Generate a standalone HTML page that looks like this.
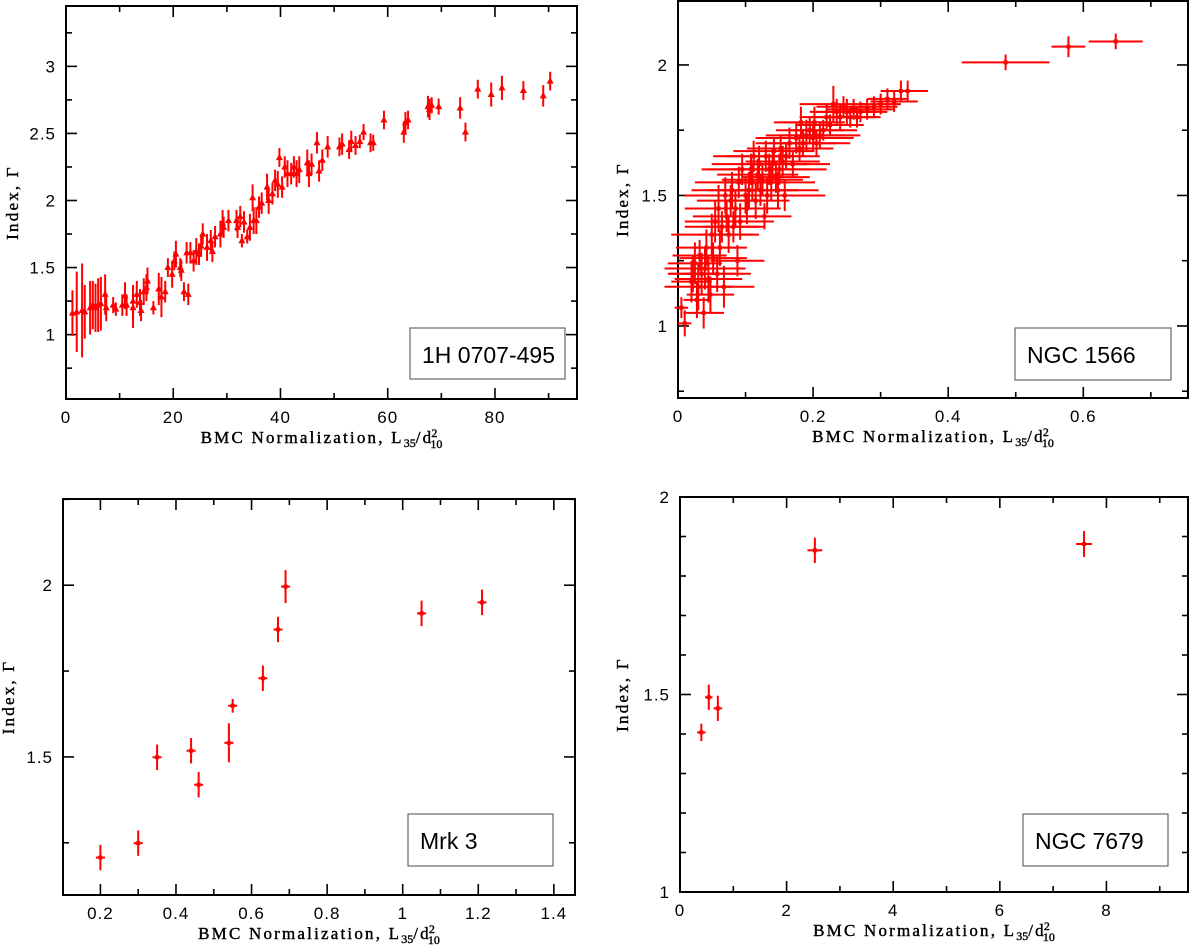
<!DOCTYPE html>
<html><head><meta charset="utf-8"><style>
html,body{margin:0;padding:0;background:#fff;}
svg{display:block;}
text{font-family:"Liberation Sans",sans-serif;fill:#000;}
.tl{font-size:17px;letter-spacing:1px;}
.at{font-family:"Liberation Serif",serif;font-size:17px;letter-spacing:2.2px;stroke:#000;stroke-width:0.4px;}
.lab{font-size:23px;}
</style></head><body>
<svg id="fig" width="1200" height="945" viewBox="0 0 1200 945" xmlns="http://www.w3.org/2000/svg"></svg>
<script>
// ---- Panel 1: 1H 0707-495 (x, gamma, yerr)
const p1X=[1.2,2,3,3.5,4.5,5,5.5,6,6.5,7.3,7.5,8.8,9.3,10.5,11,11.3,12.5,12.5,13.2,13.8,14,14.5,15,15.2,16.3,17.3,17.8,18.5,19,19.8,20.2,20.5,21.3,21.5,22,22.5,22.8,23.2,23.8,24.3,24.8,25.2,25.5,26.3,27,27.3,27.8,28.8,29.2,29.4,30.3,31.8,32,32.5,32.8,33.2,33.8,34.3,34.8,35,35.5,36,36.5,37.5,37.8,38.5,39,39.5,39.8,40.3,40.8,41.3,42,42.5,43,43.5,45,45.3,45.8,46.8,47.2,47.8,48.8,51,51.5,52.8,53.2,54,54.8,55.5,56.8,57.3,59.3,63,63.3,63.8,67.5,67.8,68.2,69.5,73.5,74.5,76.8,79.3,81.3,85.3,89,90.3];
const p1Y=[1.16,1.17,1.18,1.17,1.2,1.22,1.2,1.22,1.23,1.3,1.2,1.22,1.19,1.22,1.29,1.22,1.25,1.2,1.3,1.24,1.18,1.32,1.35,1.4,1.2,1.34,1.28,1.32,1.5,1.45,1.55,1.6,1.5,1.48,1.32,1.61,1.3,1.61,1.55,1.62,1.6,1.66,1.75,1.65,1.7,1.62,1.73,1.75,1.83,1.8,1.85,1.85,1.8,1.88,1.7,1.84,1.73,1.8,2.02,1.85,1.85,1.95,1.98,2.1,2.0,2.05,2.15,2.12,2.32,2.1,2.25,2.2,2.2,2.25,2.2,2.23,2.28,2.2,2.27,2.43,2.22,2.3,2.4,2.4,2.42,2.38,2.44,2.41,2.44,2.51,2.43,2.43,2.6,2.51,2.58,2.6,2.7,2.68,2.71,2.7,2.69,2.51,2.83,2.79,2.84,2.82,2.78,2.89];
const p1E=[0.17,0.3,0.35,0.2,0.2,0.18,0.18,0.2,0.2,0.15,0.1,0.06,0.05,0.08,0.1,0.08,0.12,0.15,0.1,0.1,0.08,0.1,0.1,0.1,0.05,0.12,0.15,0.08,0.07,0.1,0.07,0.1,0.07,0.08,0.07,0.08,0.08,0.08,0.08,0.1,0.08,0.08,0.08,0.1,0.08,0.08,0.08,0.1,0.1,0.08,0.08,0.08,0.08,0.08,0.05,0.08,0.05,0.1,0.1,0.1,0.1,0.08,0.08,0.1,0.1,0.08,0.08,0.1,0.07,0.08,0.08,0.1,0.08,0.08,0.1,0.1,0.1,0.1,0.08,0.08,0.08,0.08,0.08,0.07,0.08,0.07,0.08,0.07,0.05,0.06,0.07,0.06,0.07,0.08,0.08,0.07,0.08,0.08,0.06,0.06,0.08,0.07,0.07,0.09,0.09,0.07,0.08,0.07];
// ---- Panel 2: NGC 1566 (x, gamma, xerr, yerr)
const p2X=[0.005,0.01,0.02,0.022,0.025,0.028,0.03,0.032,0.035,0.038,0.04,0.042,0.045,0.048,0.05,0.052,0.055,0.058,0.06,0.062,0.065,0.068,0.07,0.072,0.075,0.078,0.08,0.082,0.085,0.088,0.09,0.092,0.095,0.1,0.102,0.105,0.108,0.11,0.112,0.115,0.118,0.12,0.122,0.125,0.128,0.13,0.132,0.135,0.138,0.14,0.142,0.145,0.148,0.15,0.152,0.155,0.158,0.16,0.165,0.17,0.175,0.18,0.182,0.185,0.19,0.195,0.2,0.202,0.205,0.21,0.215,0.22,0.225,0.23,0.235,0.24,0.245,0.25,0.255,0.26,0.265,0.27,0.28,0.29,0.3,0.31,0.32,0.33,0.34,0.485,0.578,0.648];
const p2Y=[1.07,1.01,1.17,1.2,1.24,1.1,1.15,1.27,1.2,1.05,1.22,1.3,1.18,1.12,1.35,1.26,1.4,1.2,1.45,1.3,1.38,1.15,1.5,1.42,1.35,1.48,1.52,1.38,1.45,1.25,1.55,1.4,1.6,1.5,1.45,1.52,1.6,1.55,1.65,1.48,1.58,1.62,1.52,1.56,1.42,1.65,1.5,1.6,1.55,1.62,1.67,1.57,1.52,1.6,1.68,1.63,1.5,1.65,1.7,1.62,1.72,1.68,1.78,1.7,1.73,1.75,1.72,1.78,1.7,1.73,1.75,1.8,1.77,1.85,1.82,1.8,1.84,1.82,1.8,1.83,1.8,1.82,1.83,1.84,1.85,1.87,1.86,1.9,1.9,2.01,2.07,2.09];
const p2XE=[0.01,0.01,0.03,0.035,0.04,0.02,0.05,0.04,0.05,0.03,0.06,0.045,0.05,0.035,0.06,0.05,0.045,0.05,0.05,0.04,0.055,0.045,0.06,0.05,0.045,0.05,0.06,0.045,0.05,0.04,0.065,0.05,0.06,0.06,0.05,0.06,0.065,0.055,0.06,0.05,0.06,0.07,0.055,0.06,0.04,0.06,0.05,0.06,0.065,0.055,0.06,0.05,0.06,0.07,0.05,0.055,0.06,0.05,0.05,0.055,0.06,0.05,0.04,0.05,0.06,0.05,0.06,0.045,0.05,0.06,0.05,0.04,0.05,0.05,0.04,0.05,0.04,0.045,0.04,0.04,0.035,0.04,0.04,0.035,0.03,0.03,0.035,0.03,0.03,0.065,0.025,0.04];
const p2YE=[0.04,0.05,0.08,0.07,0.08,0.07,0.09,0.06,0.08,0.06,0.08,0.07,0.09,0.07,0.08,0.06,0.08,0.07,0.09,0.07,0.06,0.08,0.07,0.06,0.07,0.06,0.07,0.06,0.07,0.06,0.06,0.07,0.06,0.07,0.06,0.07,0.06,0.07,0.06,0.07,0.06,0.07,0.06,0.06,0.05,0.06,0.07,0.06,0.07,0.06,0.05,0.06,0.07,0.06,0.05,0.06,0.06,0.05,0.06,0.05,0.06,0.05,0.06,0.05,0.06,0.05,0.05,0.06,0.05,0.05,0.04,0.05,0.04,0.07,0.05,0.05,0.04,0.05,0.04,0.04,0.04,0.04,0.04,0.04,0.04,0.04,0.04,0.04,0.04,0.03,0.04,0.03];
// ---- Panel 3: Mrk 3
const p3X=[0.2,0.3,0.35,0.44,0.46,0.54,0.55,0.63,0.67,0.69,1.05,1.21];
const p3Y=[1.207,1.249,1.499,1.518,1.419,1.541,1.649,1.729,1.871,1.996,1.918,1.95];
const p3E=[0.037,0.037,0.037,0.037,0.037,0.057,0.02,0.037,0.037,0.048,0.037,0.037];
// ---- Panel 4: NGC 7679
const p4X=[0.4,0.54,0.71,2.53,7.58];
const p4Y=[1.404,1.493,1.465,1.865,1.881];
const p4XE=[0.08,0.07,0.08,0.14,0.15];
const p4YE=[0.022,0.032,0.032,0.032,0.033];
// ---- Tick labels
const p1XT=["0","20","40","60","80"], p1YT=["1","1.5","2","2.5","3"];
const p2XT=["0","0.2","0.4","0.6"], p2YT=["1","1.5","2"];
const p3XT=["0.2","0.4","0.6","0.8","1","1.2","1.4"], p3YT=["1.5","2"];
const p4XT=["0","2","4","6","8"], p4YT=["1","1.5","2"];

const NS="http://www.w3.org/2000/svg";
const svg=document.getElementById('fig');
function mk(tag,attrs,parent){const e=document.createElementNS(NS,tag);for(const k in attrs)e.setAttribute(k,attrs[k]);(parent||svg).appendChild(e);return e;}

function panel(cfg){
  const g=mk('g',{});
  
  
  const {L,R,T,B,x0,x1,y0,y1}=cfg;
  const sx=v=>L+(v-x0)/(x1-x0)*(R-L);
  const sy=v=>B-(v-y0)/(y1-y0)*(B-T);
  const tg=mk('g',{stroke:'#000','stroke-width':1.6},g);
  
  
  for(let v=Math.ceil(x0/cfg.xmin-1e-6)*cfg.xmin; v<=x1+1e-9; v+=cfg.xmin){
    const maj=Math.abs(v/cfg.xmaj-Math.round(v/cfg.xmaj))<1e-6; const len=maj?11:6; const x=sx(v);
    mk('line',{x1:x,x2:x,y1:B,y2:B-len},tg); mk('line',{x1:x,x2:x,y1:T,y2:T+len},tg);
  }
  for(let v=Math.ceil(y0/cfg.ymin-1e-6)*cfg.ymin; v<=y1+1e-9; v+=cfg.ymin){
    const maj=Math.abs(v/cfg.ymaj-Math.round(v/cfg.ymaj))<1e-6; const len=maj?11:6; const y=sy(v);
    mk('line',{x1:L,x2:L+len,y1:y,y2:y},tg); mk('line',{x1:R,x2:R-len,y1:y,y2:y},tg);
  }
  const fr=mk('rect',{x:L,y:T,width:R-L,height:B-T,fill:'none',stroke:'#000','stroke-width':2},g);
  
  
  cfg.xt.forEach(s=>{const t=mk('text',{x:sx(parseFloat(s)),y:B+24,'text-anchor':'middle',class:'tl'},g);t.textContent=s;
    
    });
  cfg.yt.forEach(s=>{const t=mk('text',{x:L-10,y:sy(parseFloat(s))+6,'text-anchor':'end',class:'tl'},g);t.textContent=s;
    
    });
  const xt=mk('text',{x:(L+R)/2,y:B+44,'text-anchor':'middle',class:'at'},g);
  xt.innerHTML='BMC Normalization, L<tspan dy="4" font-size="12" letter-spacing="0">35</tspan><tspan dy="-4">/d</tspan><tspan dx="-2" dy="-6" font-size="12" letter-spacing="0">2</tspan><tspan dx="-7" dy="11" font-size="12" letter-spacing="0">10</tspan>';
  
  
  const yx=cfg.ytx, yy=(T+B)/2;
  const yt=mk('text',{x:yx,y:yy,'text-anchor':'middle',class:'at',transform:`rotate(-90 ${yx} ${yy})`},g);
  yt.textContent='Index, Γ';
  
  
  const dg=mk('g',{stroke:'#ff0000','stroke-width':2,fill:'#ff0000'},g);
  
  
  cfg.X.forEach((xv,i)=>{
    const px=sx(xv), py=sy(cfg.Y[i]);
    const pg=mk('g',{},dg);
    
    
    const ye=cfg.YE[i], xe=cfg.XE?cfg.XE[i]:null;
    mk('line',{x1:px,x2:px,y1:sy(cfg.Y[i]-ye),y2:sy(cfg.Y[i]+ye)},pg);
    if(xe!==null) mk('line',{x1:sx(xv-xe),x2:sx(xv+xe),y1:py,y2:py},pg);
    if(cfg.tri) mk('path',{d:`M${px-3.5},${py+2.5}L${px+3.5},${py+2.5}L${px},${py-4}Z`,stroke:'none'},pg);
    else mk('rect',{x:px-2,y:py-2,width:4,height:4,stroke:'none'},pg);
  });
  const lb=mk('g',{},g);
  
  
  mk('rect',{x:cfg.lb[0],y:cfg.lb[1],width:cfg.lb[2],height:cfg.lb[3],fill:'#fff',stroke:'#666','stroke-width':1.2},lb);
  const lt=mk('text',{x:cfg.lb[0]+12,y:cfg.lb[1]+35,class:'lab'},lb); lt.textContent=cfg.label;
}

panel({name:'panel-1h0707',L:66,R:577,T:6,B:399,x0:0,x1:95.3,y0:0.52,y1:3.45,xmaj:20,xmin:10,ymaj:0.5,ymin:0.25,
  xt:p1XT,yt:p1YT,X:p1X,Y:p1Y,YE:p1E,tri:true,ytx:18,lb:[410,328,155,51],label:'1H 0707-495'});
panel({name:'panel-ngc1566',L:678,R:1188,T:1,B:398,x0:0,x1:0.755,y0:0.724,y1:2.245,xmaj:0.2,xmin:0.1,ymaj:0.5,ymin:0.25,
  xt:p2XT,yt:p2YT,X:p2X,Y:p2Y,XE:p2XE,YE:p2YE,ytx:628,lb:[1015,328,156,52],label:'NGC 1566'});
panel({name:'panel-mrk3',L:63,R:575,T:499,B:895,x0:0.101,x1:1.456,y0:1.098,y1:2.251,xmaj:0.2,xmin:0.1,ymaj:0.5,ymin:0.25,
  xt:p3XT,yt:p3YT,X:p3X,Y:p3Y,YE:p3E,XE:p3X.map(()=>0.012),ytx:14,lb:[408,814,145,52],label:'Mrk 3'});
panel({name:'panel-ngc7679',L:680,R:1188,T:497,B:892,x0:0,x1:9.53,y0:1,y1:2,xmaj:2,xmin:1,ymaj:0.5,ymin:0.1,
  xt:p4XT,yt:p4YT,X:p4X,Y:p4Y,XE:p4XE,YE:p4YE,ytx:628,lb:[1023,814,145,52],label:'NGC 7679'});
</script>
</body></html>
